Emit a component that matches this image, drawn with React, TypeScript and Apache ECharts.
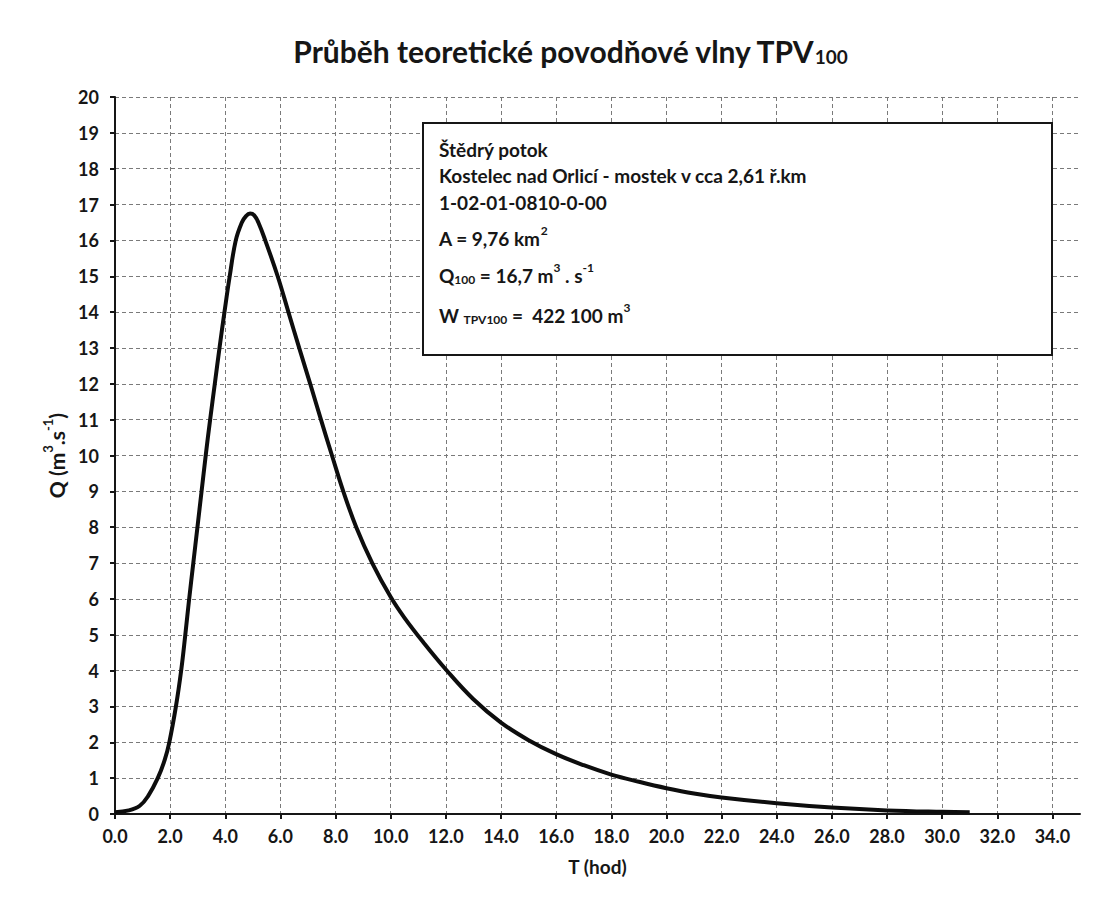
import { useEffect, useRef } from "react";
import * as echarts from "echarts";

// Hydrograph: time [h] and discharge [m3/s]
const timeHours = [
  0, 0.5, 0.9, 1.2, 1.55, 1.8, 1.97, 2.21, 2.4, 2.55, 2.69, 2.84, 2.99, 3.14, 3.29, 3.45, 3.62, 3.79, 3.97, 4.16,
  4.38, 4.6, 4.75, 4.9, 5.05, 5.2, 5.45, 5.9, 6.29, 6.68, 7.08, 7.47, 7.87, 8.28, 8.75, 9.33, 10.0, 10.5, 11.2,
  12.0, 13.0, 14.0, 15.0, 16.0, 17.0, 18.0, 19.0, 20.0, 21.0, 22.0, 24.0, 26.0, 28.0, 30.0, 31.0,
];
const discharge = [
  0.05, 0.1, 0.23, 0.5, 1.0, 1.5, 2.0, 3.0, 4.0, 5.0, 6.0, 7.0, 8.0, 9.0, 10.0, 11.0, 12.0, 13.0, 14.0, 15.0,
  16.0, 16.5, 16.68, 16.75, 16.7, 16.5, 16.0, 15.0, 14.0, 13.0, 12.0, 11.0, 10.0, 9.0, 8.0, 7.0, 6.05, 5.47, 4.77,
  4.03, 3.2, 2.55, 2.06, 1.67, 1.36, 1.1, 0.9, 0.72, 0.57, 0.46, 0.3, 0.18, 0.1, 0.06, 0.05,
];
const xTickValues = [0, 2, 4, 6, 8, 10, 12, 14, 16, 18, 20, 22, 24, 26, 28, 30, 32, 34];
const xMax = 35;
const yMax = 20;

const titleMain = "Průběh teoretické povodňové vlny TPV";
const titleSub = "100";
const xAxisName = "T (hod)";
const infoRiver = "Štědrý potok";
const infoPlace = "Kostelec nad Orlicí - mostek v cca 2,61 ř.km";
const infoCode = "1-02-01-0810-0-00";
const infoArea = "{b|A = 9,76 km}{sup|2}";
const infoQ = "{b|Q}{sub|100}{b| = 16,7 m}{sup|3}{b| . s}{sup|-1}";
const infoW = "{b|W }{sub|TPV100}{b| =  422 100 m}{sup|3}";

export default function App() {
  const ref = useRef<HTMLDivElement>(null);
  useEffect(() => {
    document.body.style.margin = "0";
    const chart = echarts.init(ref.current!, null, { renderer: "svg" });
    const font = "Lato, 'Open Sans', sans-serif";
    const ink = "#161616";
    const gridColor = "#7a7a7a";
    const infoRich = {
      b: { fontFamily: font, fontWeight: "bold", fontSize: 19, fill: ink, lineHeight: 24, verticalAlign: "bottom" },
      sup: { fontFamily: font, fontWeight: "bold", fontSize: 12, fill: ink, lineHeight: 18, verticalAlign: "top" },
      sub: { fontFamily: font, fontWeight: "bold", fontSize: 12, fill: ink, lineHeight: 13, verticalAlign: "bottom" },
    };
    const textLine = (y: number, text: string, rich = false) => ({
      type: "text",
      x: 439,
      y,
      z: 110,
      style: rich
        ? { text, rich: infoRich, verticalAlign: "middle", fill: ink }
        : { text, fontFamily: font, fontWeight: "bold", fontSize: 19, fill: ink, verticalAlign: "middle" },
    });
    chart.setOption({
      animation: false,
      backgroundColor: "#ffffff",
      grid: { left: 115, right: 37, top: 97, bottom: 100, containLabel: false },
      xAxis: {
        type: "value",
        min: 0,
        max: xMax,
        interval: 2,
        name: xAxisName,
        nameLocation: "middle",
        nameGap: 43,
        nameTextStyle: { fontFamily: font, fontWeight: "bold", fontSize: 19, color: ink },
        axisLine: { show: true, onZero: false, lineStyle: { color: ink, width: 2 } },
        axisTick: { show: true, length: 5, customValues: xTickValues, lineStyle: { color: ink, width: 2 } },
        axisLabel: {
          customValues: xTickValues,
          formatter: (v: number) => v.toFixed(1),
          fontFamily: font,
          fontWeight: "bold",
          fontSize: 18,
          color: ink,
          margin: 13,
        },
        splitLine: { show: true, lineStyle: { type: [4, 3], color: gridColor, width: 1 } },
      },
      yAxis: {
        type: "value",
        min: 0,
        max: yMax,
        interval: 1,
        name: "{a|Q (m}{s|3}{a|.s}{s|-1}{a|)}",
        nameLocation: "middle",
        nameRotate: 90,
        nameGap: 46,
        nameTextStyle: {
          rich: {
            a: { fontFamily: font, fontWeight: "bold", fontSize: 21, color: ink, lineHeight: 26, verticalAlign: "bottom" },
            s: { fontFamily: font, fontWeight: "bold", fontSize: 13, color: ink, lineHeight: 19, verticalAlign: "top" },
          },
        },
        axisLine: { show: true, lineStyle: { color: ink, width: 2 } },
        axisTick: { show: true, length: 5, lineStyle: { color: ink, width: 2 } },
        axisLabel: { fontFamily: font, fontWeight: "bold", fontSize: 18, color: ink, margin: 16 },
        splitLine: { show: true, lineStyle: { type: [4, 3], color: gridColor, width: 1 } },
      },
      graphic: [
        {
          type: "text",
          x: 570,
          y: 47,
          z: 110,
          style: {
            text: `{t|${titleMain}}{s|${titleSub}}`,
            align: "center",
            verticalAlign: "middle",
            rich: {
              t: { fontFamily: font, fontWeight: "bold", fontSize: 30, fill: ink, lineHeight: 38, verticalAlign: "bottom" },
              s: { fontFamily: font, fontWeight: "bold", fontSize: 19, fill: ink, lineHeight: 14, verticalAlign: "bottom" },
            },
          },
        },
        {
          type: "rect",
          x: 423,
          y: 123,
          z: 100,
          shape: { x: 0, y: 0, width: 629, height: 232 },
          style: { fill: "#ffffff", stroke: ink, lineWidth: 2 },
        },
        textLine(149, infoRiver),
        textLine(175, infoPlace),
        textLine(202, infoCode),
        textLine(236, infoArea, true),
        textLine(273, infoQ, true),
        textLine(313, infoW, true),
      ],
      series: [
        {
          type: "line",
          data: timeHours.map((t, i) => [t, discharge[i]]),
          showSymbol: false,
          smooth: 0.4,
          lineStyle: { color: "#0d0d0d", width: 4 },
          z: 5,
        },
      ],
    });
    return () => chart.dispose();
  }, []);
  return <div ref={ref} style={{ width: 1117, height: 914 }} />;
}
